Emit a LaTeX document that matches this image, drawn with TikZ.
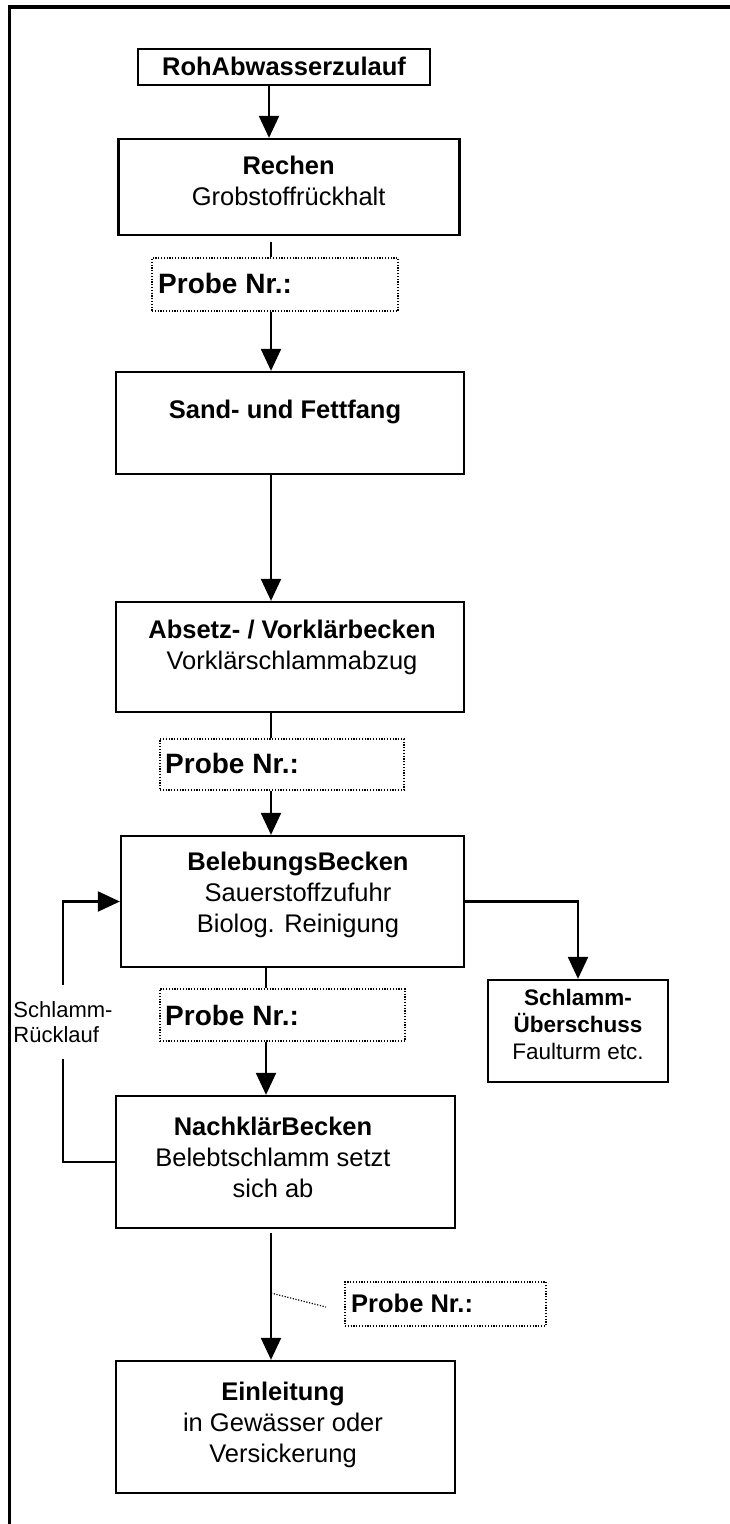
\documentclass[tikz,border=0pt]{standalone}
\usepackage{fontspec}
\setmainfont{Liberation Sans}
\usetikzlibrary{arrows.meta,calc}
\tikzset{
  box/.style={draw, line width=2.3pt, inner sep=0pt},
  probebox/.style={draw, line width=1.2pt, dash pattern=on 1.2pt off 1.6pt, inner sep=0pt},
  txt/.style={align=center, font=\fontsize{25.5}{30.8}\selectfont, inner sep=0pt},
  smalltxt/.style={align=center, font=\fontsize{22.5}{27}\selectfont, inner sep=0pt},
  probetxt/.style={anchor=west, font=\bfseries\fontsize{28}{33}\selectfont, inner sep=0pt},
  conn/.style={line width=2.2pt},
  arr/.style={line width=2.2pt, -{Triangle[length=22pt,width=20pt]}},
  dotline/.style={line width=1.2pt, dash pattern=on 1.2pt off 1.6pt},
}
\begin{document}
\begin{tikzpicture}[x=1pt,y=-1pt]
\fill[white] (0,0) rectangle (730,1524);
\useasboundingbox (0,0) rectangle (730,1524);
% frame
\draw[line width=3.8pt] (9.5,1524) -- (9.5,7.3) -- (730,7.3);

% boxes
\node[box, minimum width=292pt, minimum height=36pt] (roh) at (284,67) {};
\node[box, minimum width=341pt, minimum height=96pt] (rech) at (289,187) {};
\node[box, minimum width=348pt, minimum height=102pt] (sand) at (290,423) {};
\node[box, minimum width=348pt, minimum height=110pt] (abs) at (290,657) {};
\node[box, minimum width=343pt, minimum height=131pt] (beleb) at (292.5,901.5) {};
\node[box, minimum width=339pt, minimum height=132pt] (nach) at (285.5,1162) {};
\node[box, minimum width=339pt, minimum height=132pt] (einl) at (285.5,1427) {};
\node[box, minimum width=180pt, minimum height=102pt] (schl) at (578,1031) {};

% probe boxes
\node[probebox, minimum width=246pt, minimum height=53pt] (p1) at (275,284.5) {};
\node[probebox, minimum width=244pt, minimum height=51pt] (p2) at (282,764.5) {};
\node[probebox, minimum width=245pt, minimum height=52pt] (p3) at (282.5,1015) {};
\node[probebox, minimum width=201pt, minimum height=44pt] (p4) at (445.5,1304) {};

% texts
\node[txt] (roht) at (284,66) {\bfseries RohAbwasserzulauf};
\node[txt] (recht) at (288.6,181) {\textbf{Rechen}\\Grobstoffrückhalt};
\node[txt] (sandt) at (285,412) {\bfseries Sand- und Fettfang};
\node[txt] (abst) at (292,647.5) {\textbf{Absetz- / Vorklärbecken}\\Vorklärschlammabzug};
\node[txt] (belt) at (298,895) {\textbf{BelebungsBecken}\\Sauerstoffzufuhr\\Biolog. Reinigung};
\node[txt] (nacht) at (273,1157.5) {\textbf{NachklärBecken}\\Belebtschlamm setzt\\sich ab};
\node[txt] (einlt) at (283,1425) {\textbf{Einleitung}\\in Gewässer oder\\Versickerung};
\node[smalltxt] (schlt) at (578,1024) {\textbf{Schlamm-}\\\textbf{Überschuss}\\Faulturm etc.};
\node[probetxt] (p1t) at (158,283) {Probe Nr.:};
\node[probetxt] (p2t) at (165,763) {Probe Nr.:};
\node[probetxt] (p3t) at (165,1015) {Probe Nr.:};
\node[probetxt, font=\bfseries\fontsize{25.5}{30}\selectfont] (p4t) at (351,1303) {Probe Nr.:};
\node[align=left, inner sep=0pt, minimum height=74pt, font=\fontsize{22}{25}\selectfont] (lbl) at (63,1022) {Schlamm-\\Rücklauf};

% connectors
\coordinate (ca) at (269,0);
\coordinate (cb) at (271,0);
\coordinate (cc) at (266,0);
\coordinate (r1) at (271,242);
\coordinate (n1) at (271,1233);
\coordinate (d1) at (271,1293);
\coordinate (d2) at (326,1307);

\draw[arr] (roh.south -| ca) -- (rech.north -| ca);
\draw[conn] (r1) -- (p1.north -| r1);
\draw[arr] (p1.south -| cb) -- (sand.north -| cb);
\draw[arr] (sand.south -| cb) -- (abs.north -| cb);
\draw[conn] (abs.south -| cb) -- (p2.north -| cb);
\draw[arr] (p2.south -| cb) -- (beleb.north -| cb);
\draw[conn] (beleb.south -| cc) -- (p3.north -| cc);
\draw[arr] (p3.south -| cc) -- (nach.north -| cc);
\draw[arr] (n1) -- (einl.north -| n1);
\draw[dotline] (d1) -- (d2);
\draw[arr] (beleb.east) -| (schl.north);
\draw[conn] (nach.west) -| (lbl.south);
\draw[arr] (lbl.north) |- (beleb.west);
\end{tikzpicture}
\end{document}
